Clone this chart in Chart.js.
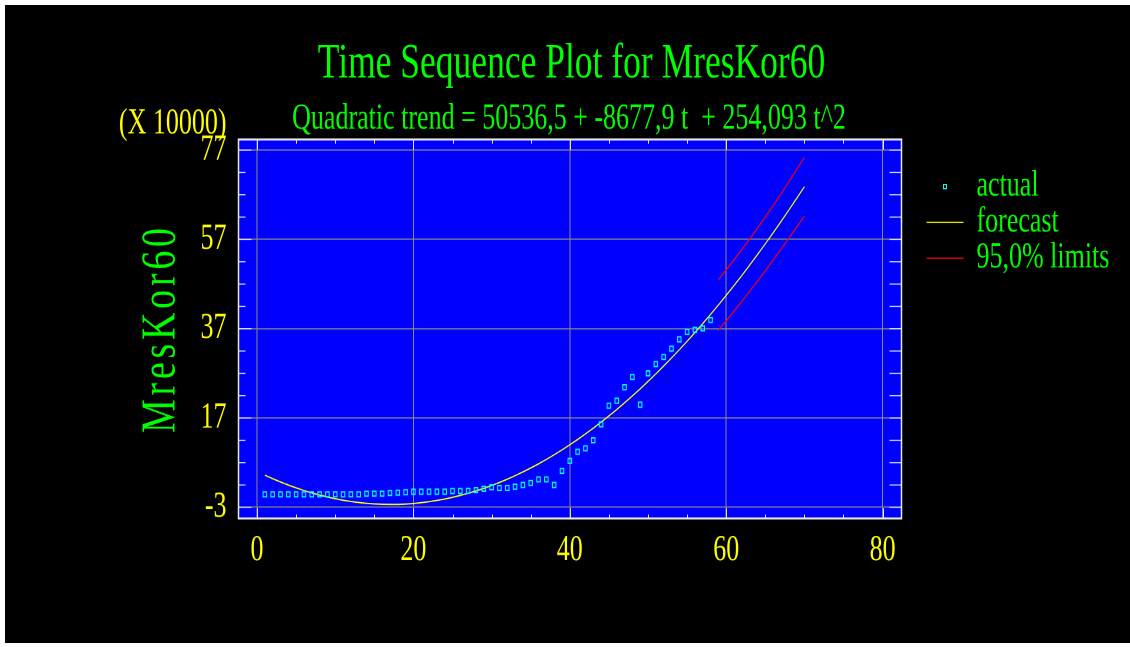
<!DOCTYPE html>
<html>
<head>
<meta charset="utf-8">
<script src="https://cdn.jsdelivr.net/npm/chart.js@4.4.1/dist/chart.umd.min.js"></script>
<style>
html, body { margin: 0; padding: 0; background: #ffffff; }
#frame { position: absolute; left: 5px; top: 5px; width: 1125px; height: 638px; background: #000000; overflow: hidden; }
#c { position: absolute; left: 0; top: 0; width: 1125px; height: 462px; transform: scaleY(1.380952); transform-origin: 0 0; }
</style>
</head>
<body>
<div id="frame"><canvas id="c" width="1125" height="462"></canvas></div>
<script>
// ---------------- data (values in units of 10000) ----------------
const actualT = [1,2,3,4,5,6,7,8,9,10,11,12,13,14,15,16,17,18,19,20,21,22,23,24,25,26,27,28,29,30,
  31,32,33,34,35,36,37,38,39,40,41,42,43,44,45,46,47,48,49,50,51,52,53,54,55,56,57,58];
const actualVals = [-0.1,-0.1,-0.1,-0.1,-0.1,-0.1,-0.1,-0.1,-0.1,-0.1,-0.1,-0.1,-0.1,
  0.05,0.05,0.05,0.2,0.27,0.36,0.49,0.49,0.49,0.49,0.49,0.65,0.65,0.72,0.87,
  1.17,1.48,1.32,1.32,1.61,2.0,2.44,3.27,3.27,2.0,
  5.15,7.4,9.45,10.21,12.0,15.59,19.76,20.87,23.88,26.18,19.98,27.0,29.09,30.66,32.52,34.63,36.26,36.78,37.09,38.95];
const forecastT = [1,2,3,4,5,6,7,8,9,10,11,12,13,14,15,16,17,18,19,20,21,22,23,24,25,26,27,28,29,30,
  31,32,33,34,35,36,37,38,39,40,41,42,43,44,45,46,47,48,49,50,51,52,53,54,55,56,57,58,59,60,
  61,62,63,64,65,66,67,68,69,70];
const forecastVals = [4.211,3.420,2.679,1.989,1.350,0.762,0.224,-0.263,-0.698,-1.083,
  -1.418,-1.701,-1.934,-2.115,-2.246,-2.326,-2.356,-2.334,-2.262,-2.138,
  -1.964,-1.740,-1.464,-1.138,-0.760,-0.332,0.147,0.676,1.257,1.888,
  2.571,3.304,4.087,4.922,5.807,6.744,7.731,8.769,9.857,10.997,
  12.187,13.429,14.721,16.063,17.457,18.901,20.397,21.943,23.540,25.187,
  26.886,28.635,30.436,32.287,34.188,36.141,38.145,40.199,42.304,44.460,
  46.667,48.924,51.232,53.592,56.002,58.462,60.974,63.537,66.150,68.814];
const limitT = [59,60,61,62,63,64,65,66,67,68,69,70];
const upperVals = [47.98,50.18,52.44,54.74,57.10,59.52,62.01,64.56,67.17,69.86,72.60,75.39];
const lowerVals = [36.62,38.74,40.90,43.10,45.36,47.66,49.99,52.36,54.77,57.22,59.70,62.23];
const xTickVals = [0,20,40,60,80];
const yTickVals = [-3,17,37,57,77];

const chartTitle = 'Time Sequence Plot for MresKor60';
const chartSubtitle = 'Quadratic trend = 50536,5 + -8677,9 t  + 254,093 t^2';
const yAxisTitle = 'MresKor60';
const yScaleNote = '(X 10000)';
const legendNames = ['actual', 'forecast', '95,0% limits'];

// ---------------- styling ----------------
const FONT = "'Liberation Serif', 'Times New Roman', Times, serif";
const S = 638 / 462;           // vertical stretch of the picture
const GREEN = '#00FF00', YELLOW = '#FFFF00', CYAN = '#00FFFF', RED = '#FF0000';
const GRID = '#8C8C84';
const LEGEND_W = 228.5;

const pts = (ts, vs) => ts.map((t, i) => ({ x: t, y: vs[i] }));

function makeMarker(color) {
  const c = document.createElement('canvas');
  c.width = 4; c.height = 4;
  const g = c.getContext('2d');
  g.fillStyle = color;
  g.fillRect(0, 0, 4, 1); g.fillRect(0, 3, 4, 1);
  g.fillRect(0, 0, 1, 4); g.fillRect(3, 0, 1, 4);
  return c;
}
const legendMarker = makeMarker(CYAN);

const decor = {
  id: 'decor',
  beforeLayout(chart) {
    const lg = chart.legend;
    if (lg && !lg.__fixed) {
      const orig = lg.fit;
      lg.fit = function () { orig.call(this); this.width = LEGEND_W; };
      lg.__fixed = true;
    }
  },
  afterLayout(chart) {
    const a = chart.chartArea;
    const lg = chart.legend;
    if (lg) {
      const w = lg.width, h = lg.height;
      lg.left = a.right + 25; lg.right = lg.left + w;
      lg.top = a.top + 21; lg.bottom = lg.top + h;
    }
    for (const b of chart.boxes) {
      if (b.options && b.options.text === chartTitle) { b.left += 4; b.right += 4; }
      else if (b.options && b.options.text === chartSubtitle) { b.left += 1.5; b.right += 1.5; }
    }
  },
  beforeDraw(chart) {
    const { ctx, chartArea: a } = chart;
    ctx.save();
    ctx.fillStyle = '#0000FF';
    ctx.fillRect(a.left, a.top, a.right - a.left, a.bottom - a.top);
    ctx.restore();
    ctx.imageSmoothingEnabled = false;
  },
  beforeDatasetsDraw(chart) {
    const { ctx, chartArea: a, scales: { x, y } } = chart;
    const seg = (x1, y1, x2, y2) => { ctx.beginPath(); ctx.moveTo(x1, y1); ctx.lineTo(x2, y2); ctx.stroke(); };
    ctx.save();
    ctx.strokeStyle = '#E4E4F4';
    ctx.lineWidth = 1;
    for (let v = 0; v <= x.max; v += 5) {
      const px = Math.round(x.getPixelForValue(v)) + 0.5;
      const len = xTickVals.includes(v) ? 7.4 : 3.0;
      seg(px, a.bottom, px, a.bottom - len);
      seg(px, a.top, px, a.top + len);
    }
    ctx.lineWidth = 1 / S;
    for (let v = yTickVals[0]; v <= y.max; v += 5) {
      const py = y.getPixelForValue(v);
      const major = yTickVals.includes(v);
      seg(a.left, py, a.left + (major ? 13 : 7), py);
      seg(a.right, py, a.right - 12, py);
    }
    ctx.strokeStyle = '#E8E8E8';
    ctx.lineWidth = 1.5;
    ctx.strokeRect(a.left, a.top, a.right - a.left, a.bottom - a.top);
    ctx.restore();
  },
  afterDraw(chart) {
    const { ctx, chartArea: a } = chart;
    ctx.save();
    // scale note
    ctx.fillStyle = YELLOW;
    ctx.font = '26px ' + FONT;
    ctx.textAlign = 'right';
    ctx.textBaseline = 'middle';
    ctx.fillText(yScaleNote, a.left - 12, 86.3);
    // rotated axis title, letter-spaced like the original
    ctx.translate(169.5, 235.7);
    ctx.rotate(-Math.PI / 2);
    ctx.font = '49px ' + FONT;
    const along = 0.56;
    ctx.scale(along, 1);
    const target = 148.4 / along;
    const natural = ctx.measureText(yAxisTitle).width;
    const gaps = yAxisTitle.length - 1;
    const ls = Math.max(0, (target - natural) / gaps);
    if ('letterSpacing' in ctx) ctx.letterSpacing = ls + 'px';
    ctx.fillStyle = GREEN;
    ctx.textAlign = 'left';
    ctx.textBaseline = 'alphabetic';
    ctx.fillText(yAxisTitle, -target / 2, 0);
    ctx.restore();
  }
};

new Chart(document.getElementById('c'), {
  type: 'scatter',
  data: {
    datasets: [
      { label: legendNames[0], data: pts(actualT, actualVals), showLine: false,
        pointStyle: 'rect', pointRadius: 2.5, pointBorderWidth: 1,
        borderColor: CYAN, pointBorderColor: CYAN, backgroundColor: 'rgba(0,0,0,0)', pointBackgroundColor: 'rgba(0,0,0,0)' },
      { label: legendNames[1], data: pts(forecastT, forecastVals), showLine: true,
        borderColor: YELLOW, borderWidth: 1, pointRadius: 0, tension: 0, fill: false },
      { label: legendNames[2], data: pts(limitT, upperVals), showLine: true,
        borderColor: RED, borderWidth: 1, pointRadius: 0, tension: 0, fill: false },
      { label: legendNames[2] + ' lower', data: pts(limitT, lowerVals), showLine: true,
        borderColor: RED, borderWidth: 1, pointRadius: 0, tension: 0, fill: false }
    ]
  },
  options: {
    responsive: false,
    devicePixelRatio: 2,
    animation: false,
    events: [],
    layout: { padding: 0 },
    scales: {
      x: {
        type: 'linear', min: -2.37, max: 82.42,
        afterBuildTicks: s => { s.ticks = xTickVals.map(v => ({ value: v })); },
        afterFit: s => { s.height = 90.15; },
        ticks: { color: YELLOW, font: { family: FONT, size: 26 }, padding: 7.5, maxRotation: 0, autoSkip: false,
                 callback: v => String(v) },
        grid: { color: GRID, lineWidth: 1, drawTicks: false },
        border: { display: false }
      },
      y: {
        type: 'linear', min: -5.51, max: 79.37,
        afterBuildTicks: s => { s.ticks = yTickVals.map(v => ({ value: v })); },
        afterFit: s => { s.width = 233.5; },
        ticks: { color: YELLOW, font: { family: FONT, size: 26 }, padding: 12, autoSkip: false,
                 callback: v => String(v) },
        grid: { color: GRID, lineWidth: 1 / S, drawTicks: false },
        border: { display: false }
      }
    },
    plugins: {
      tooltip: { enabled: false },
      title: { display: true, text: chartTitle, color: GREEN,
               font: { family: FONT, size: 35.5, weight: 'normal', lineHeight: 1.2 },
               padding: { top: 21.75, bottom: 0 } },
      subtitle: { display: true, text: chartSubtitle, color: GREEN,
                  font: { family: FONT, size: 26, weight: 'normal', lineHeight: 1 },
                  padding: { top: 5.48, bottom: 1.57 } },
      legend: {
        display: true, position: 'right', align: 'start',
        labels: {
          usePointStyle: true, pointStyleWidth: 37, color: GREEN,
          font: { family: FONT, size: 26 }, padding: 0,
          generateLabels: () => [
            { text: legendNames[0], pointStyle: legendMarker, fillStyle: 'rgba(0,0,0,0)', strokeStyle: CYAN, lineWidth: 1, fontColor: GREEN, hidden: false },
            { text: legendNames[1], pointStyle: 'line', fillStyle: YELLOW, strokeStyle: YELLOW, lineWidth: 1, fontColor: GREEN, hidden: false },
            { text: legendNames[2], pointStyle: 'line', fillStyle: RED, strokeStyle: RED, lineWidth: 1, fontColor: GREEN, hidden: false }
          ]
        }
      }
    }
  },
  plugins: [decor]
});
</script>
</body>
</html>
